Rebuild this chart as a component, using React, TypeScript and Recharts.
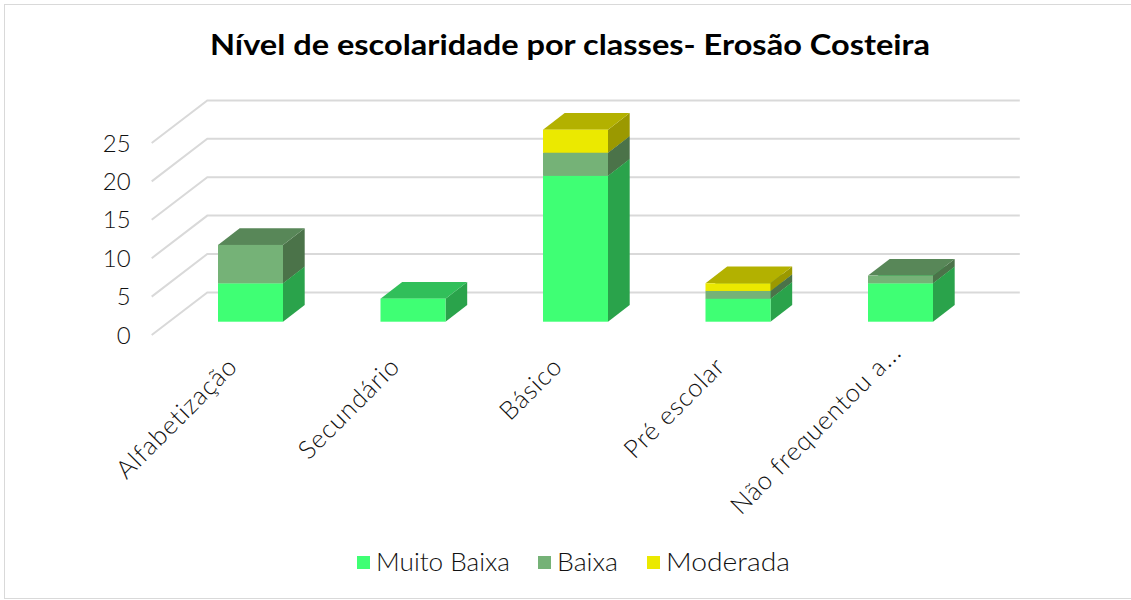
import React from "react";
import { BarChart, Bar, XAxis, YAxis, CartesianGrid, Legend } from "recharts";

const categories = ["Alfabetização", "Secundário", "Básico", "Pré escolar", "Não frequentou a..."];
const muitoBaixa = [5, 3, 19, 3, 5];
const baixa = [5, 0, 3, 1, 1];
const moderada = [0, 0, 3, 1, 0];
const yTicks = [0, 5, 10, 15, 20, 25];
const seriesNames = ["Muito Baixa", "Baixa", "Moderada"];
const titleText = "Nível de escolaridade por classes- Erosão Costeira";

const FONT = "Lato, 'Noto Sans', sans-serif";
const TEXT = "#111111";
const GRID = "#D9D9D9";
const palette = [
  { front: "#3FFF74", side: "#2AA34B", top: "#31BF5A" },
  { front: "#75B277", side: "#4B7349", top: "#588758" },
  { front: "#EBE900", side: "#9B9900", top: "#B3B100" },
];
const BAR_SHIFT = { x: 17.3, y: 13.3 };
const BAR_DEPTH = { x: 21.7, y: 16.7 };
const WALL = { x: 55.6, y: 42.6 };
const LEGEND_LAYOUT = [
  { box: 357, text: 376, width: 134 },
  { box: 538, text: 557, width: 61 },
  { box: 647, text: 666, width: 124 },
];
const LABEL_SHIFT = [0, 0, 0, 0, 14];

const rows = categories.map((name, i) => ({
  name,
  [seriesNames[0]]: muitoBaixa[i],
  [seriesNames[1]]: baixa[i],
  [seriesNames[2]]: moderada[i],
}));

function box3d(colors: { front: string; side: string; top: string }) {
  return (props: any) => {
    const { x, y, width, height } = props;
    if (!height || height <= 0) return <g />;
    const l = x + BAR_SHIFT.x;
    const t = y - BAR_SHIFT.y;
    const r = l + width;
    const b = t + height;
    const dx = BAR_DEPTH.x;
    const dy = BAR_DEPTH.y;
    return (
      <g>
        <polygon points={`${r},${t} ${r + dx},${t - dy} ${r + dx},${b - dy} ${r},${b}`} fill={colors.side} />
        <polygon points={`${l},${t} ${l + dx},${t - dy} ${r + dx},${t - dy} ${r},${t}`} fill={colors.top} />
        <rect x={l} y={t} width={width} height={height} fill={colors.front} />
      </g>
    );
  };
}

function gridLine(props: any) {
  const { x1, y1, x2 } = props;
  return (
    <polyline
      key={`g-${y1}`}
      points={`${x1},${y1} ${x1 + WALL.x},${y1 - WALL.y} ${x2 + WALL.x},${y1 - WALL.y}`}
      fill="none"
      stroke={GRID}
      strokeWidth={2}
    />
  );
}

function YTick(props: any) {
  const { x, y, payload } = props;
  return (
    <text x={x - 15} y={y + 8.5} textAnchor="end" fontFamily={FONT} fontWeight={300} fontSize={24} fill={TEXT}>
      {payload.value}
    </text>
  );
}

function XTick(props: any) {
  const { x, payload, index } = props;
  const shift = LABEL_SHIFT[index] || 0;
  const ax = x + 6 + shift;
  const ay = 368 - shift;
  return (
    <text
      x={ax}
      y={ay}
      textAnchor="end"
      transform={`rotate(-45 ${ax} ${ay})`}
      fontFamily={FONT}
      fontWeight={300}
      fontSize={25.5}
      letterSpacing={0.9}
      fill={TEXT}
    >
      {payload.value}
    </text>
  );
}

function LegendBody() {
  return (
    <svg width={1131} height={40} style={{ display: "block" }}>
      {seriesNames.map((name, i) => (
        <g key={name}>
          <rect x={LEGEND_LAYOUT[i].box} y={14} width={13} height={13} fill={palette[i].front} />
          <text
            x={LEGEND_LAYOUT[i].text}
            y={29}
            fontFamily={FONT}
            fontWeight={300}
            fontSize={25}
            fill={TEXT}
            textLength={LEGEND_LAYOUT[i].width}
            lengthAdjust="spacingAndGlyphs"
          >
            {name}
          </text>
        </g>
      ))}
    </svg>
  );
}

export default function App() {
  return (
    <div style={{ position: "absolute", left: 0, top: 0, width: 1131, height: 600, background: "#fff", overflow: "hidden" }}>
      <div
        style={{
          position: "absolute",
          left: 4,
          top: 4,
          width: 1140,
          height: 595,
          boxSizing: "border-box",
          border: "1.5px solid #D9D9D9",
        }}
      />
      <div style={{ position: "absolute", left: 0, top: 0 }}>
        <BarChart
          width={1131}
          height={600}
          data={rows}
          barCategoryGap={0}
          margin={{ top: 143, right: 166.8, bottom: 165, left: 51.7 }}
          style={{ fontFamily: FONT }}
        >
          <text
            x={210}
            y={55}
            fontFamily={FONT}
            fontWeight={700}
            fontSize={29}
            fill="#000"
            textLength={720}
            lengthAdjust="spacingAndGlyphs"
          >
            {titleText}
          </text>
          <CartesianGrid horizontal={gridLine} vertical={false} />
          <XAxis dataKey="name" axisLine={false} tickLine={false} height={60} interval={0} tick={<XTick />} />
          <YAxis
            domain={[0, 25]}
            ticks={yTicks}
            width={100}
            axisLine={false}
            tickLine={false}
            tickMargin={0}
            tick={<YTick />}
          />
          <Legend
            content={<LegendBody />}
            wrapperStyle={{ position: "absolute", left: 0, top: 542, width: 1131, height: 40 }}
          />
          {seriesNames.map((name, i) => (
            <Bar
              key={name}
              dataKey={name}
              stackId="a"
              barSize={65}
              isAnimationActive={false}
              shape={box3d(palette[i])}
            />
          ))}
        </BarChart>
      </div>
    </div>
  );
}
